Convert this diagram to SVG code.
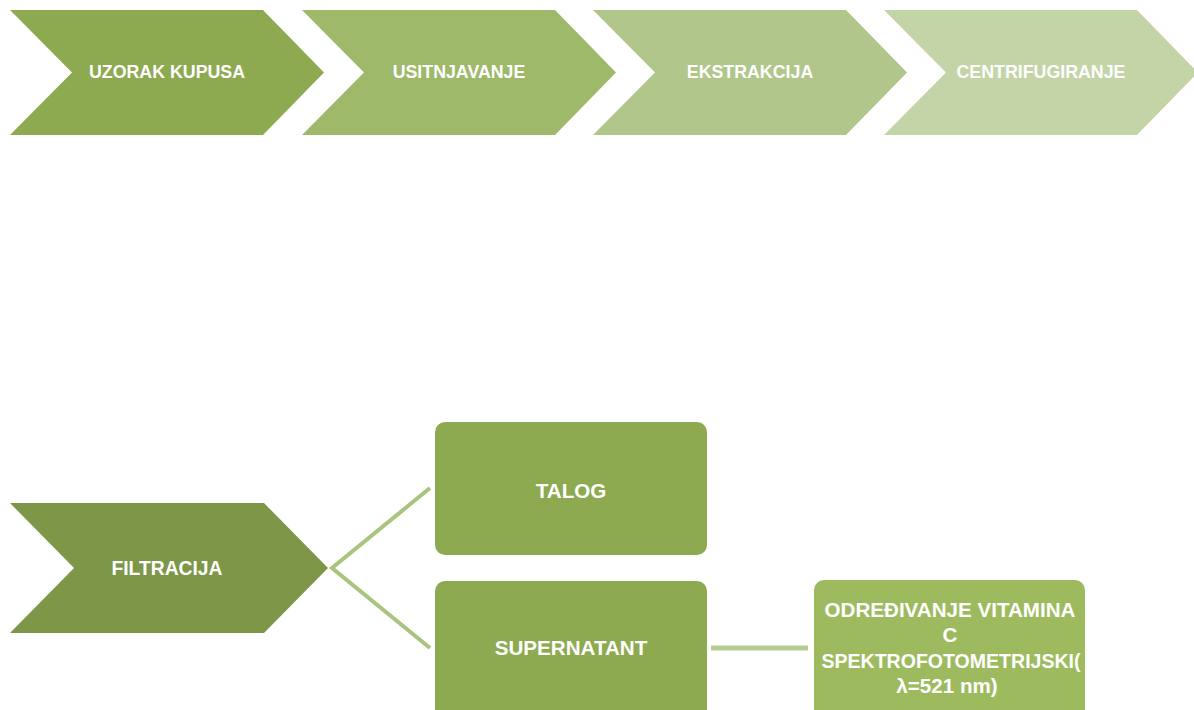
<svg xmlns="http://www.w3.org/2000/svg" width="1194" height="710" viewBox="0 0 1194 710">
<style>
.t{font-family:"Liberation Sans",Arial,sans-serif;font-weight:bold;font-size:17.8px;fill:#ffffff;text-anchor:middle;dominant-baseline:central}
.f{font-size:19.3px}
.b{font-size:20.6px}
.c{fill:none;stroke-linecap:butt}
</style>
<rect width="1194" height="710" fill="#ffffff"/>
<g id="n1"><polygon points="10,10 263,10 324,72.5 263,135 10,135 72,72.5" fill="#8DAA50"/><text class="t" x="167" y="72">UZORAK KUPUSA</text></g>
<g id="n2"><polygon points="302,10 555,10 616,72.5 555,135 302,135 364,72.5" fill="#9EB969"/><text class="t" x="459" y="72">USITNJAVANJE</text></g>
<g id="n3"><polygon points="593,10 846,10 907,72.5 846,135 593,135 655,72.5" fill="#B0C68A"/><text class="t" x="750" y="72">EKSTRAKCIJA</text></g>
<g id="n4"><polygon points="884,10 1137,10 1198,72.5 1137,135 884,135 946,72.5" fill="#C3D4A7"/><text class="t" x="1041" y="72">CENTRIFUGIRANJE</text></g>
<g id="n5"><polygon points="10,503 264,503 328,568 264,633 10,633 74,568" fill="#7E9648"/><text class="t f" x="167" y="568">FILTRACIJA</text></g>
<g id="n6"><rect x="435" y="422" width="272" height="133" rx="10" fill="#8DAA50"/><text class="t b" x="571" y="490">TALOG</text></g>
<g id="n7"><rect x="435" y="581" width="272" height="140" rx="10" fill="#8DAA50"/><text class="t b" x="571" y="647">SUPERNATANT</text></g>
<g id="n8"><rect x="814" y="580" width="271" height="140" rx="10" fill="#9DBB5E"/>
<text class="t b" x="950" y="609">ODREĐIVANJE VITAMINA</text>
<text class="t b" x="950" y="634">C</text>
<text class="t b" x="951" y="660" textLength="259" lengthAdjust="spacingAndGlyphs">SPEKTROFOTOMETRIJSKI(</text>
<text class="t b" x="947" y="685">λ=521 nm)</text></g>
<g id="connectors">
<polyline class="c" points="430,488 332,568 430,648" stroke="#A9C47E" stroke-width="4"/>
<line class="c" x1="711" y1="648" x2="808" y2="648" stroke="#B7CD94" stroke-width="5"/>
</g>
</svg>
